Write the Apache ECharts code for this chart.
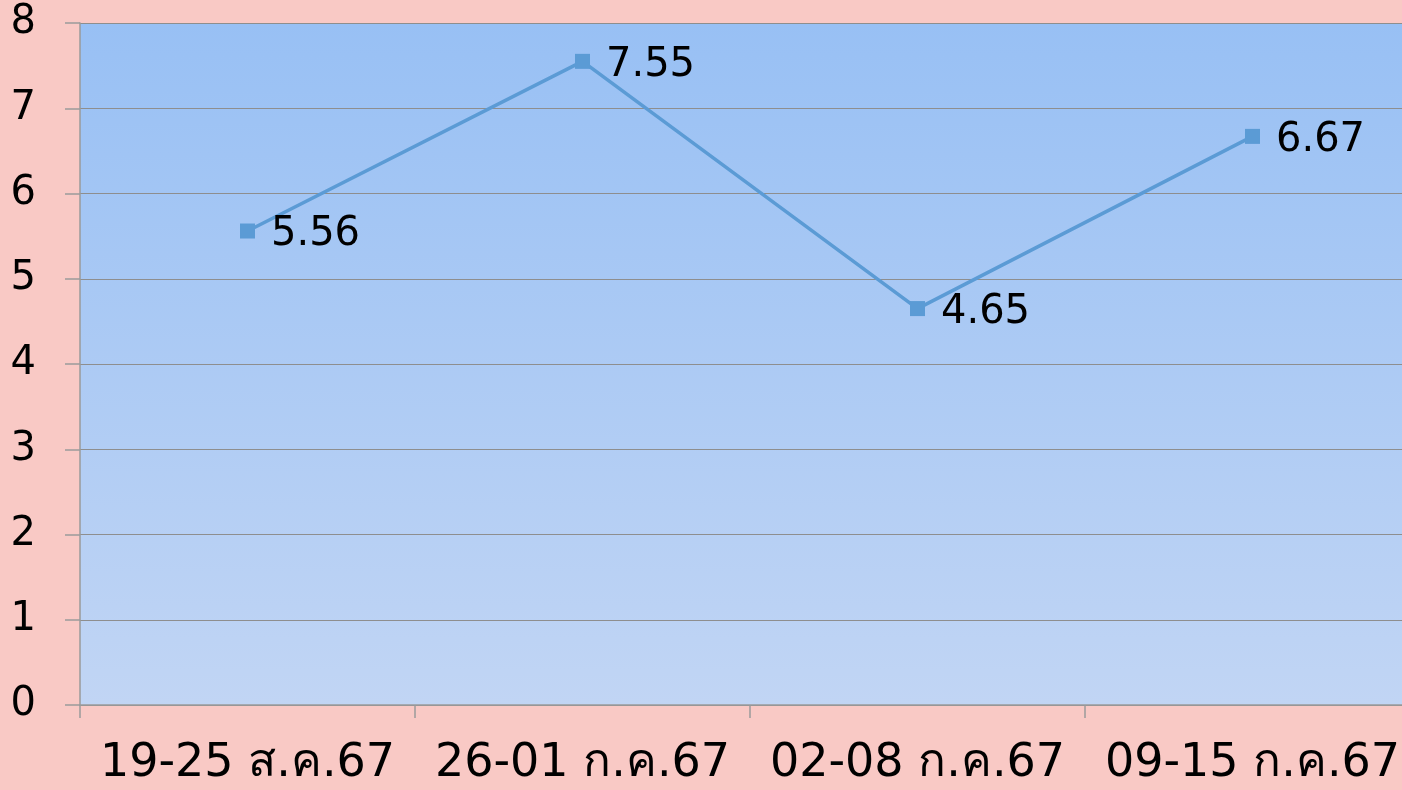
<!DOCTYPE html>
<html>
<head>
<meta charset="utf-8">
<script src="https://cdn.jsdelivr.net/npm/echarts@6/dist/echarts.min.js"></script>
<style>
  html, body { margin: 0; padding: 0; background: #F9C9C5; overflow: hidden; }
  /* plot runs slightly past the right edge of the window */
  #chart { width: 1420px; height: 790px; }
</style>
</head>
<body>
<div id="chart"></div>
<script>
// Weekly values
const categories = ['19-25 ส.ค.67', '26-01 ก.ค.67', '02-08 ก.ค.67', '09-15 ก.ค.67'];
const values = [5.56, 7.55, 4.65, 6.67];
const yMin = 0;
const yMax = 8;
const yInterval = 1;

const chart = echarts.init(document.getElementById('chart'));
const fontFamily = '"DejaVu Sans", "Noto Sans", sans-serif';

chart.setOption({
  backgroundColor: '#F9C9C5',
  animation: false,
  grid: {
    left: 80,
    right: 0,
    top: 23,
    bottom: 85,
    show: true,
    borderWidth: 0,
    backgroundColor: new echarts.graphic.LinearGradient(0, 0, 0, 1, [
      { offset: 0, color: '#98C0F4' },
      { offset: 1, color: '#C1D5F4' }
    ])
  },
  xAxis: {
    type: 'category',
    data: categories,
    boundaryGap: true,
    axisLine: { show: true, lineStyle: { color: '#9A9A9A', width: 1.5 } },
    axisTick: { show: true, length: 13, alignWithLabel: false, lineStyle: { color: '#9A9A9A', width: 1.5 } },
    axisLabel: {
      color: '#000',
      fontSize: 46,
      fontFamily: fontFamily,
      margin: 36,
      interval: 0
    }
  },
  yAxis: {
    type: 'value',
    min: yMin,
    max: yMax,
    interval: yInterval,
    axisLine: { show: true, lineStyle: { color: '#9A9A9A', width: 1.5 } },
    axisTick: { show: true, length: 15, lineStyle: { color: '#9A9A9A', width: 1.5 } },
    splitLine: { show: true, lineStyle: { color: '#8E8E8E', width: 1 } },
    axisLabel: {
      color: '#000',
      fontSize: 40,
      fontFamily: fontFamily,
      margin: 44
    }
  },
  series: [{
    type: 'line',
    data: values,
    symbol: 'rect',
    symbolSize: 15,
    lineStyle: { color: '#5B9BD5', width: 3.5 },
    itemStyle: { color: '#5B9BD5' },
    label: {
      show: true,
      position: 'right',
      distance: 16,
      offset: [0, 4],
      color: '#000',
      fontSize: 40,
      fontFamily: fontFamily,
      formatter: p => p.value.toFixed(2)
    }
  }]
});
</script>
</body>
</html>
